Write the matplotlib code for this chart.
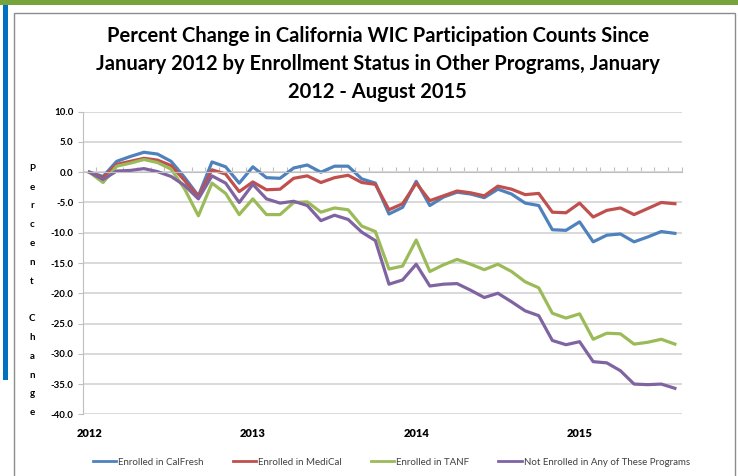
import matplotlib.pyplot as plt
import numpy as np
from matplotlib.patches import Rectangle
from matplotlib.lines import Line2D

plt.rcParams['font.family'] = ['Lato', 'DejaVu Sans']

# Monthly points, January 2012 - August 2015
months = np.arange(44)
year_labels = ['2012', '2013', '2014', '2015']
year_pos = [0, 12, 24, 36]
yticks = np.arange(10, -45, -5)

series_names = ['Enrolled in CalFresh', 'Enrolled in MediCal', 'Enrolled in TANF',
                'Not Enrolled in Any of These Programs']
colors = ['#4F81BD', '#C0504D', '#9BBB59', '#8064A2']

calfresh = [0.0, -0.7, 1.8, 2.6, 3.3, 3.0, 1.8, -0.9, -3.9, 1.7, 0.9, -1.8,
            0.9, -0.9, -1.0, 0.7, 1.2, 0.0, 1.0, 1.0, -1.1, -1.8, -6.9, -5.8,
            -1.5, -5.5, -4.1, -3.3, -3.6, -4.2, -2.8, -3.6, -5.1, -5.5, -9.5, -9.6,
            -8.2, -11.5, -10.4, -10.2, -11.5, -10.7, -9.8, -10.1]
medical = [0.0, -0.9, 1.3, 1.8, 2.3, 2.0, 1.1, -1.4, -4.0, 0.4, -0.3, -3.2,
           -1.6, -2.9, -2.8, -1.0, -0.6, -1.7, -0.9, -0.5, -1.7, -2.0, -6.2, -5.2,
           -1.8, -4.7, -3.9, -3.1, -3.4, -3.9, -2.3, -2.8, -3.7, -3.5, -6.6, -6.7,
           -5.1, -7.4, -6.3, -5.9, -7.0, -6.0, -5.0, -5.2]
tanf = [0.0, -1.7, 1.0, 1.5, 2.1, 1.6, 0.5, -2.8, -7.2, -1.8, -3.5, -7.0,
        -4.4, -7.0, -7.0, -5.0, -4.9, -6.6, -5.9, -6.2, -8.9, -9.8, -16.0, -15.5,
        -11.2, -16.4, -15.3, -14.4, -15.2, -16.1, -15.2, -16.4, -18.1, -19.1, -23.3, -24.1,
        -23.4, -27.6, -26.6, -26.7, -28.4, -28.1, -27.6, -28.4]
not_enrolled = [0.0, -1.2, 0.2, 0.3, 0.6, 0.1, -0.7, -2.2, -4.4, -0.6, -1.8, -5.0,
                -2.0, -4.4, -5.1, -4.8, -5.5, -8.0, -7.1, -7.8, -9.9, -11.3, -18.5, -17.8,
                -15.2, -18.8, -18.5, -18.4, -19.5, -20.7, -20.0, -21.4, -22.9, -23.7, -27.8, -28.5,
                -28.0, -31.3, -31.5, -32.8, -35.0, -35.1, -35.0, -35.7]

fig = plt.figure(figsize=(7.38, 4.76), dpi=100)

# slide decorations around the chart
fig.patches.append(Rectangle((14 / 738, -0.05), 721 / 738, 1.05 - 13 / 476, transform=fig.transFigure,
                             facecolor='none', edgecolor='#8c8c8c', lw=1.0))
fig.patches.append(Rectangle((0, 1 - 5 / 476), 1, 5 / 476, transform=fig.transFigure,
                             facecolor='#77A33C', edgecolor='none'))
fig.patches.append(Rectangle((3 / 738, 1 - 380 / 476), 5 / 738, 375 / 476, transform=fig.transFigure,
                             facecolor='#0070C0', edgecolor='none'))

ax = fig.add_axes([0.112, 0.1296, 0.8117, 0.6357])

for vals, c in zip([calfresh, medical, tanf, not_enrolled], colors):
    ax.plot(months, vals, color=c, lw=2.3, solid_joinstyle='round')

ax.set_xlim(-0.5, 43.5)
ax.set_ylim(-40, 10)
ax.set_yticks(yticks)
ax.set_yticklabels([f'{v:.1f}' for v in yticks], fontsize=7, fontweight='bold')
ax.yaxis.grid(True, color='#d9d9d9', lw=1.4)
ax.set_axisbelow(True)

for s in ['top', 'right']:
    ax.spines[s].set_visible(False)
ax.spines['left'].set_color('#bfbfbf')
ax.spines['bottom'].set_color('#bfbfbf')
ax.spines['bottom'].set_position(('data', 0))

ax.set_xticks(np.arange(-0.5, 44, 1))
ax.tick_params(axis='x', direction='in', length=3.5, color='#bfbfbf', labelbottom=False)
ax.tick_params(axis='y', length=3.5, color='#bfbfbf', pad=3)

for lab, p in zip(year_labels, year_pos):
    ax.text(p, -0.062, lab, transform=ax.get_xaxis_transform(), ha='center', va='center',
            fontsize=8, fontweight='heavy')

fig.text(0.0434, 0.3897, 'P\ne\nr\nc\ne\nn\nt\n\nC\nh\na\nn\ng\ne', ha='center', va='center',
         fontsize=7, fontweight='bold', linespacing=2.4)

fig.text(0.512, 0.8655, 'Percent Change in California WIC Participation Counts Since\n'
         'January 2012 by Enrollment Status in Other Programs, January\n2012 - August 2015',
         ha='center', va='center', fontsize=14.5, fontweight='bold', linespacing=1.5)

handles = [Line2D([], [], color=c, lw=2) for c in colors]
fig.legend(handles, series_names, loc='center', bbox_to_anchor=(0.53, 0.0294), ncol=4,
           frameon=False, fontsize=7, handlelength=2.4, handletextpad=0.2,
           columnspacing=3.0, labelcolor='#404040')

fig.savefig('out.png', dpi=100)
